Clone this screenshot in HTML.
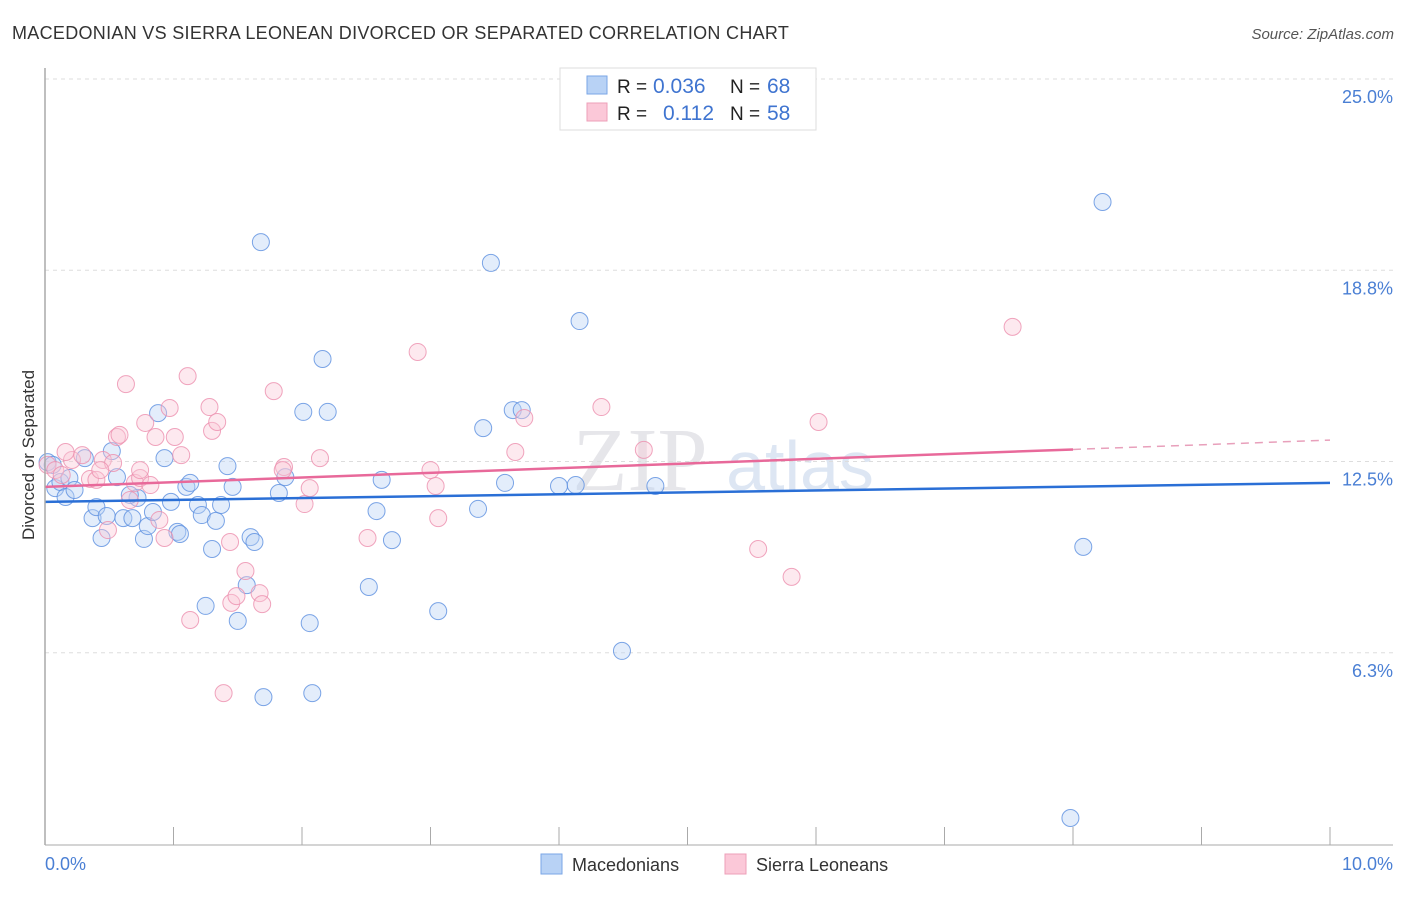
<!DOCTYPE html>
<html><head><meta charset="utf-8"><style>
body{margin:0;background:#fff;font-family:"Liberation Sans",sans-serif}
</style></head><body>
<svg width="1406" height="892" viewBox="0 0 1406 892" id="c">
<text x="12" y="39" font-size="18" fill="#333" letter-spacing="0.3">MACEDONIAN VS SIERRA LEONEAN DIVORCED OR SEPARATED CORRELATION CHART</text>
<text x="1394" y="39" font-size="15" fill="#555" font-style="italic" text-anchor="end">Source: ZipAtlas.com</text>
<text x="640" y="490" font-size="90" fill="#e6e6ea" font-family="Liberation Serif" text-anchor="middle">ZIP</text>
<text x="800" y="490" font-size="70" fill="#dde6f3" text-anchor="middle">atlas</text>
<g id="grid"></g><g id="pts"></g><g id="trend"></g>
<line x1="45" y1="68" x2="45" y2="845" stroke="#aaa" stroke-width="1.5"/>
<line x1="45" y1="845" x2="1393" y2="845" stroke="#aaa" stroke-width="1"/>
<text transform="translate(34,455) rotate(-90)" font-size="17" fill="#333" text-anchor="middle">Divorced or Separated</text>
<text x="45" y="870" font-size="18" fill="#4a7fd4">0.0%</text>
<text x="1393" y="870" font-size="18" fill="#4a7fd4" text-anchor="end">10.0%</text>
<g>
<rect x="560" y="68" width="256" height="62" fill="#fff" stroke="#ddd"/>
<rect x="587" y="76" width="20" height="18" fill="#b8d2f5" stroke="#7aa6e6"/>
<rect x="587" y="103" width="20" height="18" fill="#fbc8d8" stroke="#ee9fb8"/>
<text x="617" y="93" font-size="19" fill="#222">R =</text>
<text x="653" y="93" font-size="21" fill="#3f74d0">0.036</text>
<text x="730" y="93" font-size="19" fill="#222">N =</text>
<text x="767" y="93" font-size="21" fill="#3f74d0">68</text>
<text x="617" y="120" font-size="19" fill="#222">R =</text>
<text x="663" y="120" font-size="21" fill="#3f74d0">0.112</text>
<text x="730" y="120" font-size="19" fill="#222">N =</text>
<text x="767" y="120" font-size="21" fill="#3f74d0">58</text>
</g>
<g>
<rect x="541" y="854" width="21" height="20" fill="#b8d2f5" stroke="#7aa6e6"/>
<text x="572" y="871" font-size="18" fill="#333">Macedonians</text>
<rect x="725" y="854" width="21" height="20" fill="#fbc8d8" stroke="#ee9fb8"/>
<text x="756" y="871" font-size="18" fill="#333">Sierra Leoneans</text>
</g>
</svg>
<script>
const yTicks=[6.25,12.5,18.75,25];
const yTickLabels=["6.3%","12.5%","18.8%","25.0%"];
const xTicks=[0,1,2,3,4,5,6,7,8,9,10];
const blueX=[0.02,0.08,0.12,0.16,0.19,0.23,0.31,0.37,0.40,0.44,0.48,0.52,0.56,0.61,0.68,0.72,0.77,0.80,0.84,0.88,0.93,0.98,1.03,1.05,1.10,1.13,1.19,1.22,1.25,1.30,1.33,1.37,1.42,1.46,1.50,1.57,1.60,1.63,1.68,1.70,1.82,1.87,2.01,2.06,2.08,2.16,2.20,2.52,2.58,2.62,2.70,3.06,3.37,3.41,3.47,3.58,3.64,3.71,4.00,4.13,4.16,4.49,4.75,7.98,8.08,8.23,0.06,0.66];
const blueY=[12.48,11.63,11.83,11.34,11.96,11.57,12.61,10.65,11.01,10.0,10.72,12.84,11.99,10.65,10.65,11.31,9.97,10.39,10.85,14.08,12.61,11.18,10.20,10.13,11.67,11.80,11.08,10.75,7.78,9.64,10.56,11.08,12.35,11.67,7.29,8.46,10.03,9.87,19.67,4.80,11.47,11.99,14.12,7.22,4.93,15.85,14.12,8.40,10.88,11.90,9.93,7.61,10.95,13.59,18.99,11.80,14.18,14.18,11.70,11.73,17.09,6.31,11.70,0.85,9.71,20.98,12.39,11.41];
const pinkX=[0.02,0.08,0.13,0.21,0.29,0.35,0.40,0.45,0.49,0.53,0.56,0.58,0.63,0.66,0.70,0.74,0.78,0.82,0.86,0.89,0.93,0.97,1.01,1.06,1.11,1.13,1.28,1.30,1.34,1.39,1.44,1.45,1.49,1.56,1.67,1.69,1.78,1.86,2.02,2.06,2.14,2.51,2.90,3.00,3.04,3.06,3.66,3.73,4.33,4.66,5.55,5.81,6.02,7.53,0.16,0.43,0.74,1.85];
const pinkY=[12.39,12.22,12.06,12.55,12.71,11.93,11.90,12.55,10.26,12.45,13.30,13.37,15.03,11.24,11.80,11.96,13.76,11.73,13.30,10.59,10.0,14.25,13.30,12.71,15.29,7.32,14.28,13.50,13.79,4.93,9.87,7.88,8.10,8.92,8.20,7.84,14.80,12.32,11.11,11.63,12.61,10.0,16.08,12.22,11.70,10.65,12.81,13.92,14.28,12.88,9.64,8.73,13.79,16.90,12.81,12.22,12.22,12.22];
const blueTrend=[11.18,11.80];
const pinkTrend=[11.67,13.2];
const pinkSolidEnd=8.0;
const NS="http://www.w3.org/2000/svg";
const X=v=>45+v*128.5, Y=v=>844-v*30.6;
function mk(t,a,p){const e=document.createElementNS(NS,t);for(const k in a)e.setAttribute(k,a[k]);document.getElementById(p).appendChild(e);return e;}
yTicks.forEach((t,i)=>{
 const l=mk('line',{x1:45,x2:1393,y1:Y(t),y2:Y(t),stroke:'#ddd','stroke-dasharray':'4,4'},'grid');
 
 
 const tx=mk('text',{x:1393,y:Y(t)+24,'font-size':18,fill:'#4a7fd4','text-anchor':'end'},'grid');
 tx.textContent=yTickLabels[i];
 
 
});
xTicks.forEach(t=>{
 const l=mk('line',{x1:X(t),x2:X(t),y1:827,y2:845,stroke:'#aaa'},'grid');
 
 
});
function pts(xs,ys,fill,stroke,name){xs.forEach((x,i)=>{
 const c=mk('circle',{cx:X(x),cy:Y(ys[i]),r:8.5,fill:fill,'fill-opacity':0.4,stroke:stroke,'stroke-opacity':0.8,'stroke-width':1},'pts');
 
 
});}
pts(blueX,blueY,'#b8d2f5','#5b8fe0','macedonian-point');
pts(pinkX,pinkY,'#fbc8d8','#ec8fae','sierra-leonean-point');
const bt=mk('line',{x1:X(0),y1:Y(blueTrend[0]),x2:X(10),y2:Y(blueTrend[1]),stroke:'#2a6fd6','stroke-width':2.5},'trend');


const pm=pinkTrend[0]+(pinkTrend[1]-pinkTrend[0])*pinkSolidEnd/10;
const pt=mk('line',{x1:X(0),y1:Y(pinkTrend[0]),x2:X(pinkSolidEnd),y2:Y(pm),stroke:'#e8699a','stroke-width':2.5},'trend');


const pd=mk('line',{x1:X(pinkSolidEnd),y1:Y(pm),x2:X(10),y2:Y(pinkTrend[1]),stroke:'#e8a0bb','stroke-width':1.5,'stroke-dasharray':'8,6'},'trend');


</script>
</body></html>
